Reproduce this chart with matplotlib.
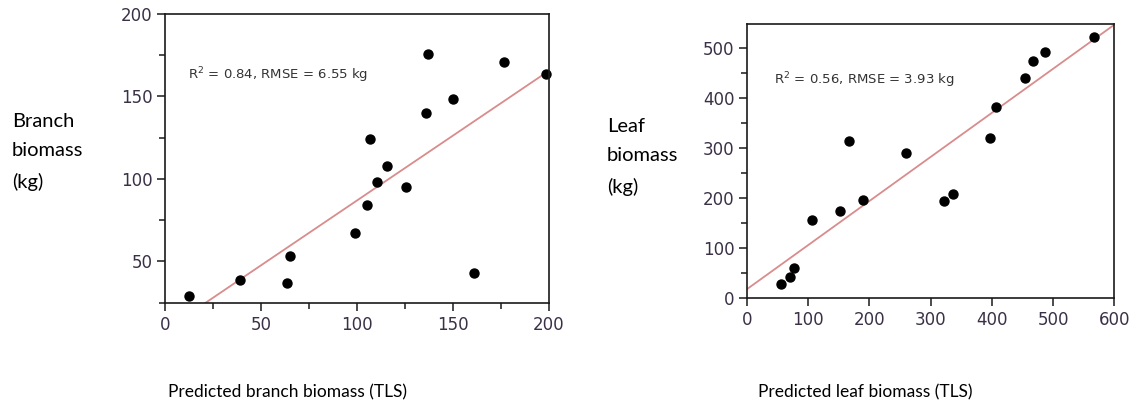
import matplotlib
matplotlib.use("Agg")
import matplotlib.pyplot as plt
from matplotlib.ticker import MultipleLocator

# branch biomass: TLS prediction vs. measured (kg)
branch_pred = [12.5, 38.9, 63.8, 64.9, 99.0, 105.3, 107.0, 110.5, 115.5, 125.4,
               136.2, 137.2, 150.2, 161.2, 176.4, 198.4]
branch_meas = [29.1, 38.9, 36.8, 53.4, 67.0, 84.4, 124.3, 98.2, 107.9, 95.3,
               139.9, 175.9, 148.6, 42.7, 170.9, 163.4]
branch_fit = (8.2, 0.787)  # intercept, slope
branch_text = "R$^2$ = 0.84, RMSE = 6.55 kg"

# leaf biomass
leaf_pred = [56.6, 71.3, 77.3, 106.6, 151.8, 167.0, 189.3, 259.5, 322.1, 336.8,
             397.2, 407.0, 453.8, 466.8, 486.9, 566.9]
leaf_meas = [28.0, 43.3, 61.3, 156.5, 175.1, 314.9, 195.7, 290.3, 195.1, 208.4,
             320.9, 382.2, 440.1, 474.0, 492.0, 522.6]
leaf_fit = (18.0, 0.881)
leaf_text = "R$^2$ = 0.56, RMSE = 3.93 kg"

tick_col = "#3b3147"
label_font = ["Lato", "DejaVu Sans"]

fig = plt.figure(figsize=(11.38, 4.04), dpi=100)
ax1 = fig.add_axes([0.145, 0.25, 0.3374, 0.7153])
ax2 = fig.add_axes([0.6562, 0.2616, 0.323, 0.679])


def panel(ax, xs, ys, fit, txt, xlim, ylim, xmaj, xmin, ymaj, ymin, txt_pos):
    b, m = fit
    ax.plot(xlim, [b + m * xlim[0], b + m * xlim[1]], color="#d98c8c", lw=1.3, zorder=1)
    ax.scatter(xs, ys, s=42, color="black", zorder=2, clip_on=False)
    ax.set_xlim(*xlim)
    ax.set_ylim(*ylim)
    ax.xaxis.set_major_locator(MultipleLocator(xmaj))
    ax.yaxis.set_major_locator(MultipleLocator(ymaj))
    if xmin:
        ax.xaxis.set_minor_locator(MultipleLocator(xmin))
    ax.yaxis.set_minor_locator(MultipleLocator(ymin))
    for s in ax.spines.values():
        s.set_color("#1a1a1a")
        s.set_linewidth(1.2)
    ax.tick_params(which="major", length=6, width=1.1, color="#1a1a1a",
                   labelsize=12, labelcolor=tick_col, pad=3)
    ax.tick_params(which="minor", length=4, width=1.1, color="#1a1a1a")
    ax.text(txt_pos[0], txt_pos[1], txt, transform=ax.transAxes, fontsize=9.5,
            color="#333333", va="center", ha="left")


panel(ax1, branch_pred, branch_meas, branch_fit, branch_text,
      (0, 200), (24.7, 200), 50, 25, 50, 25, (0.06, 0.79))
panel(ax2, leaf_pred, leaf_meas, leaf_fit, leaf_text,
      (0, 600), (0, 548), 100, None, 100, 50, (0.075, 0.795))

fig.text(12 / 1138, 1 - 152 / 404, "Branch\nbiomass\n(kg)", family=label_font,
         fontsize=14.5, va="center", ha="left", linespacing=1.9)
fig.text(607 / 1138, 1 - 157 / 404, "Leaf\nbiomass\n(kg)", family=label_font,
         fontsize=14.5, va="center", ha="left", linespacing=1.9)
fig.text(287 / 1138, 1 - 392 / 404, "Predicted branch biomass (TLS)", family=label_font,
         fontsize=12.5, va="center", ha="center")
fig.text(865 / 1138, 1 - 392 / 404, "Predicted leaf biomass (TLS)", family=label_font,
         fontsize=12.5, va="center", ha="center")

fig.savefig("out.png", dpi=100)
